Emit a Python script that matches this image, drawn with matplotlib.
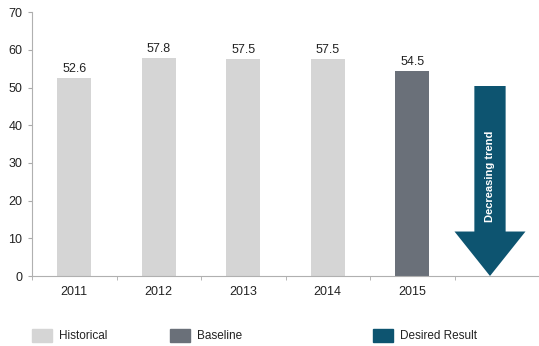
import matplotlib.pyplot as plt
from matplotlib.patches import FancyArrow, Patch

plt.rcParams['font.family'] = ['Liberation Sans', 'DejaVu Sans']

years = ['2011', '2012', '2013', '2014', '2015']
values = [52.6, 57.8, 57.5, 57.5, 54.5]
kinds = ['Historical', 'Historical', 'Historical', 'Historical', 'Baseline']
arrow_top = 50.4
arrow_head_base = 11.8

colors = {'Historical': '#d5d5d5', 'Baseline': '#6a7079', 'Desired Result': '#0d5470'}

fig = plt.figure(figsize=(5.39, 3.46), dpi=100)
ax = fig.add_axes([32 / 539, 0.2023, 507 / 539, 0.7627])

x = list(range(len(years)))
ax.bar(x, values, width=0.4, color=[colors[k] for k in kinds])
for xi, v in zip(x, values):
    ax.text(xi, v + 0.8, f'{v:.1f}', ha='center', va='bottom', fontsize=9, color='#222222')

# downward arrow in the extra slot after the last year
arrow_x = len(years) - 0.08
arrow = FancyArrow(arrow_x, arrow_top, 0, -arrow_top, width=0.37, head_width=0.84,
                   head_length=arrow_head_base, length_includes_head=True,
                   color=colors['Desired Result'], linewidth=0)
ax.add_patch(arrow)
ax.text(arrow_x, 26.5, 'Decreasing trend', rotation=90, ha='center', va='center',
        color='white', fontsize=8, fontweight='bold')

ax.set_xlim(-0.5, 5.465)
ax.set_ylim(0, 70)
ax.set_yticks(range(0, 71, 10))
ax.set_xticks(x)
ax.set_xticklabels(years)
ax.set_xticks([i - 0.5 for i in range(len(years) + 2)], minor=True)
ax.tick_params(axis='x', which='major', length=0, pad=7, labelsize=9, labelcolor='#222222')
ax.tick_params(axis='x', which='minor', length=3, color='#aaaaaa')
ax.tick_params(axis='y', length=3, color='#aaaaaa', labelsize=9, labelcolor='#222222', pad=4)
for s in ['top', 'right']:
    ax.spines[s].set_visible(False)
for s in ['left', 'bottom']:
    ax.spines[s].set_color('#b0b0b0')
    ax.spines[s].set_linewidth(0.8)

legend_items = ['Historical', 'Baseline', 'Desired Result']
legend_x = [32 / 539, 170 / 539, 373 / 539]
for label, px in zip(legend_items, legend_x):
    fig.legend([Patch(color=colors[label])], [label], loc='center left',
               bbox_to_anchor=(px, 0.029), frameon=False, fontsize=8.5,
               handlelength=1.7, handleheight=1.2, handletextpad=0.6,
               borderaxespad=0, borderpad=0, labelcolor='#222222')

fig.savefig('out.png', dpi=100)
